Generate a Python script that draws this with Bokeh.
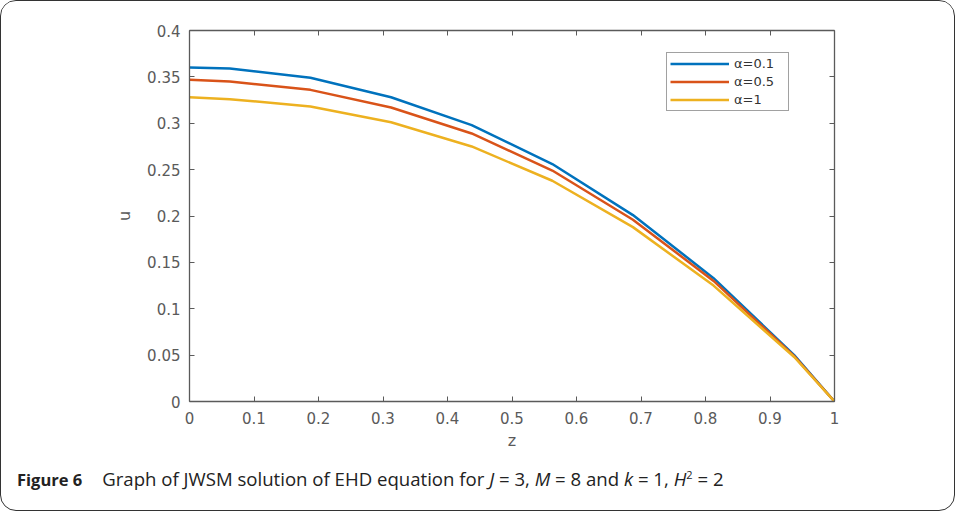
from bokeh.plotting import figure
from bokeh.models import (LinearAxis, FixedTicker, CustomJSTickFormatter, Legend,
                          LegendItem, Div, Range1d)
from bokeh.layouts import column
from bokeh.embed import file_html
from bokeh.resources import INLINE

z = [0, 0.0625, 0.1875, 0.3125, 0.4375, 0.5625, 0.6875, 0.8125, 0.9375, 1.0]
u_a01 = [0.360, 0.359, 0.349, 0.328, 0.298, 0.256, 0.201, 0.133, 0.050, 0.0]
u_a05 = [0.347, 0.345, 0.336, 0.317, 0.289, 0.249, 0.196, 0.130, 0.049, 0.0]
u_a1 = [0.328, 0.326, 0.318, 0.301, 0.275, 0.238, 0.188, 0.125, 0.048, 0.0]
labels = ["\u03b1=0.1", "\u03b1=0.5", "\u03b1=1"]
colors = ["#0072BD", "#D95319", "#EDB120"]
xticks = [0, 0.1, 0.2, 0.3, 0.4, 0.5, 0.6, 0.7, 0.8, 0.9, 1]
yticks = [0, 0.05, 0.1, 0.15, 0.2, 0.25, 0.3, 0.35, 0.4]

AX = "#5a5a5a"
FONT = "DejaVu Sans"

p = figure(width=952, height=452, output_backend="svg", toolbar_location=None,
           x_range=Range1d(0, 1), y_range=Range1d(0, 0.4),
           min_border_left=188, min_border_right=119, min_border_top=29,
           min_border_bottom=52, x_axis_label="z", y_axis_label="u")
p.grid.visible = False
p.outline_line_color = None
p.background_fill_color = "white"
p.border_fill_color = "white"

rs = []
for ys, c in zip([u_a01, u_a05, u_a1], colors):
    rs.append(p.line(z, ys, line_color=c, line_width=2.5))

def style_axis(ax, ticks, show_labels=True):
    ax.ticker = FixedTicker(ticks=ticks)
    ax.minor_tick_line_color = None
    ax.major_tick_in = 5
    ax.major_tick_out = 0
    ax.axis_line_color = AX
    ax.axis_line_width = 1.3
    ax.major_tick_line_color = AX
    ax.major_label_text_color = AX
    ax.major_label_text_font = FONT
    ax.major_label_text_font_size = "15px"
    ax.axis_label_text_font = FONT
    ax.axis_label_text_font_size = "16px"
    ax.axis_label_text_font_style = "normal"
    ax.axis_label_text_color = AX
    if not show_labels:
        ax.major_label_text_font_size = "1px"
        ax.formatter = CustomJSTickFormatter(code="return ''")

style_axis(p.xaxis[0], xticks)
style_axis(p.yaxis[0], yticks)
p.xaxis[0].major_label_standoff = 10
p.xaxis[0].axis_label_standoff = 4
p.yaxis[0].major_label_standoff = 9
p.yaxis[0].axis_label_standoff = 10

top = LinearAxis()
right = LinearAxis()
style_axis(top, xticks, False)
style_axis(right, yticks, False)
p.add_layout(top, "above")
p.add_layout(right, "right")

legend = Legend(items=[LegendItem(label=l, renderers=[r]) for l, r in zip(labels, rs)],
                location=(477, 290), orientation="vertical")
legend.label_text_font = FONT
legend.label_text_font_size = "13px"
legend.label_text_color = "#333333"
legend.glyph_width = 59
legend.glyph_height = 15
legend.label_height = 15
legend.label_width = 51
legend.label_standoff = 5
legend.spacing = 3
legend.padding = 3
legend.margin = 0
legend.border_line_color = "#444444"
legend.border_line_width = 1
legend.background_fill_color = "white"
p.add_layout(legend, "center")

caption = Div(
    text=('<div style="padding:8px 0 0 11px;font-family:\'Open Sans\';color:#222;white-space:nowrap">'
          '<b style="font-size:16.5px">Figure 6</b>'
          '<span style="font-size:18.6px;margin-left:20px">Graph of JWSM solution of EHD equation for '
          '<i>J</i> = 3, <i>M</i> = 8 and <i>k</i> = 1, <i>H</i><sup style="font-size:11px">2</sup> = 2</span></div>'),
    width=952, height=56)

layout = column(p, caption, width=955, height=511, sizing_mode="fixed",
                styles={"border": "1.5px solid #333", "border-radius": "16px",
                        "box-sizing": "border-box", "overflow": "hidden",
                        "background": "white"})

open("out.html", "w").write(file_html(layout, INLINE))
